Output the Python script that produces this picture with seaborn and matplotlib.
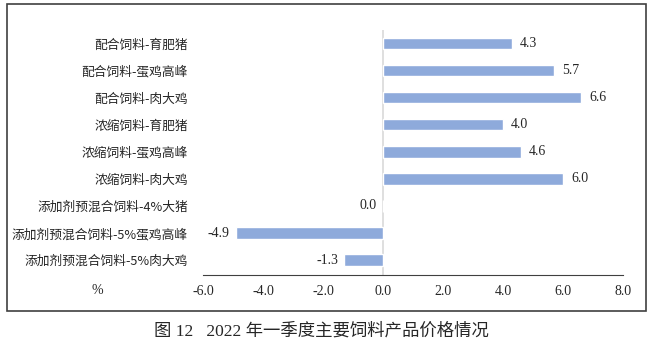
import pandas as pd
import seaborn as sns
import matplotlib.pyplot as plt
from matplotlib.patches import Rectangle

# Categories and values (percent change)
categories = ["配合饲料-育肥猪", "配合饲料-蛋鸡高峰", "配合饲料-肉大鸡",
              "浓缩饲料-育肥猪", "浓缩饲料-蛋鸡高峰", "浓缩饲料-肉大鸡",
              "添加剂预混合饲料-4%大猪", "添加剂预混合饲料-5%蛋鸡高峰", "添加剂预混合饲料-5%肉大鸡"]
values = [4.3, 5.7, 6.6, 4.0, 4.6, 6.0, 0.0, -4.9, -1.3]
x_ticks = [-6, -4, -2, 0, 2, 4, 6, 8]

df = pd.DataFrame({"product": categories, "change": values})

sns.set_style("white")
plt.rcParams['font.family'] = ['Liberation Serif', 'Noto Sans CJK SC', 'DejaVu Sans']

fig = plt.figure(figsize=(6.56, 3.52), dpi=100)
ax = fig.add_axes([203 / 656, 77 / 352, 420 / 656, (322 - 77) / 352])

sns.barplot(data=df, x="change", y="product", color="#8eaadb", width=0.42,
            saturation=1, ax=ax, orient="h")

ax.axvline(0, color="#d9d9d9", lw=1.2, zorder=0)
ax.set_xlim(-6, 8)
ax.set_ylim(len(categories) - 0.45, -0.5)
ax.set_xticks(x_ticks)
ax.set_xticklabels([f"{v:.1f}" for v in x_ticks], fontsize=10)
ax.tick_params(axis="x", direction="in", length=4, width=1, color="#404040", pad=7)
ax.tick_params(axis="y", length=0, pad=11, labelsize=9.2)
for lbl in ax.get_yticklabels():
    lbl.set_family(['Noto Sans CJK SC', 'DejaVu Sans'])
ax.set_xlabel("")
ax.set_ylabel("")
for s in ["left", "top", "right"]:
    ax.spines[s].set_visible(False)
ax.spines["bottom"].set_color("#404040")

# value labels
for i, v in enumerate(values):
    if v > 0:
        ax.text(v + 0.27, i, f"{v:.1f}", va="center", ha="left", fontsize=10)
    else:
        ax.text(v - 0.2, i, f"{v:.1f}", va="center", ha="right", fontsize=10)

fig.text(97 / 656, 1 - 290 / 352, "%", ha="center", va="center", fontsize=10)

# frame around the chart
fig.patches.append(Rectangle((7 / 656, 1 - 311 / 352), 639 / 656, 307 / 352,
                             transform=fig.transFigure, fill=False,
                             edgecolor="#404040", lw=1.2))

fig.text(321 / 656, 1 - 331 / 352, "图 12   2022 年一季度主要饲料产品价格情况",
         ha="center", va="center", fontsize=12.5)

fig.savefig("out.png", dpi=100)
